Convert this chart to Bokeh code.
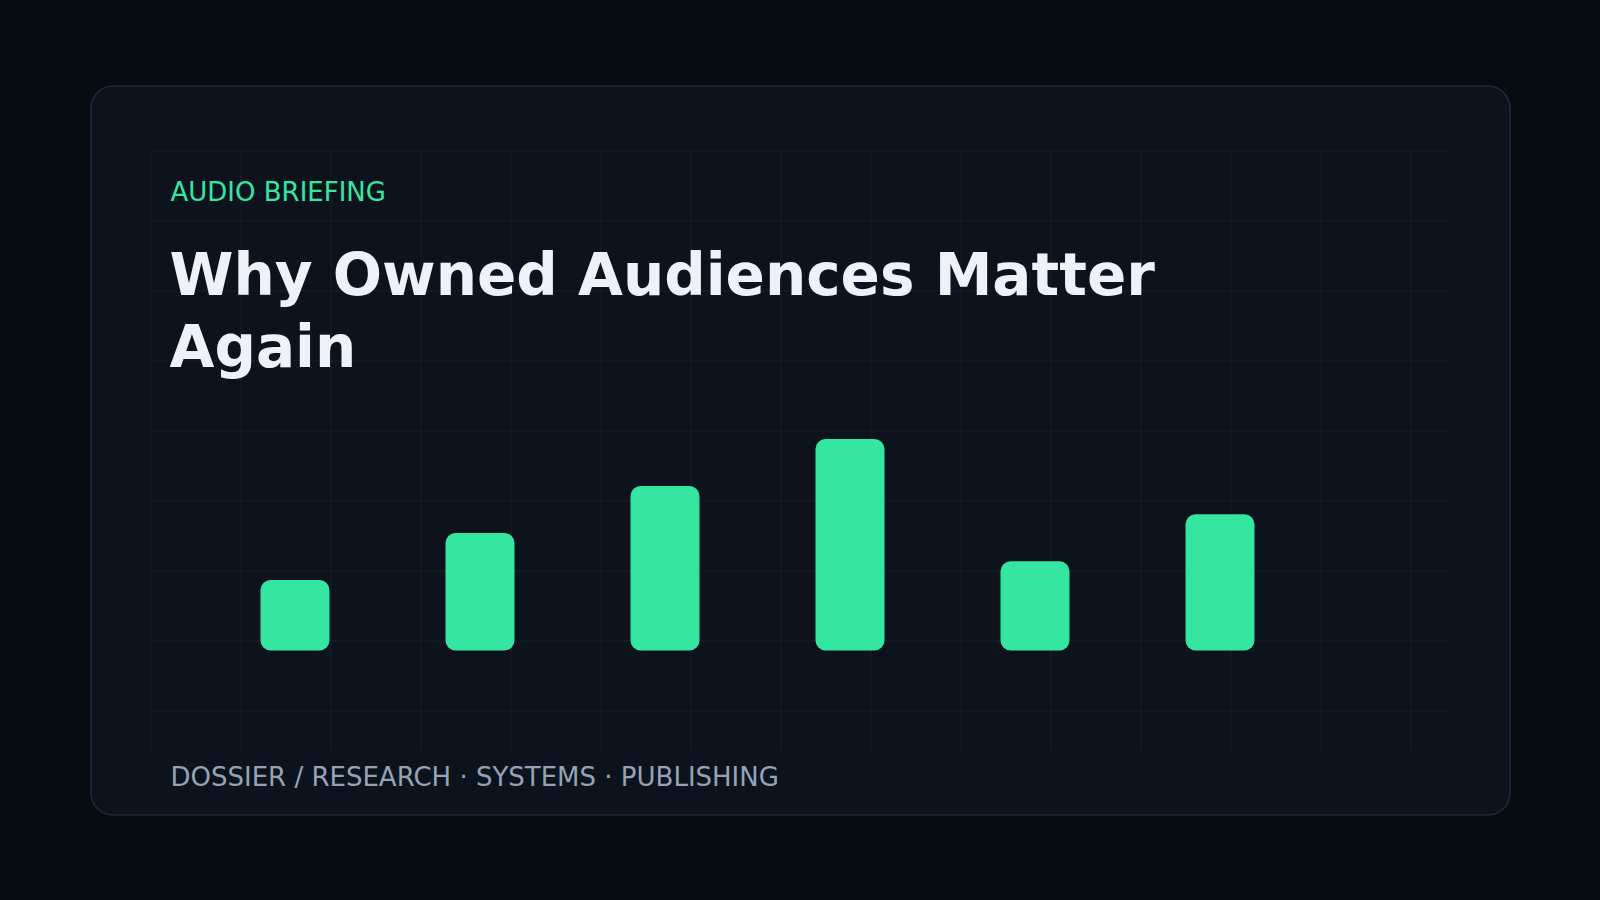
from bokeh.plotting import figure
from bokeh.models import Range1d, GlobalInlineStyleSheet
from bokeh.core.properties import value
from bokeh.embed import file_html
from bokeh.resources import INLINE

# ---- data ----
bar_index = [0, 1, 2, 3, 4, 5]
bar_values = [30, 50, 70, 90, 38, 58]

kicker = "AUDIO BRIEFING"
title_lines = ["Why Owned Audiences Matter", "Again"]
footer = "DOSSIER / RESEARCH · SYSTEMS · PUBLISHING"

# ---- style / layout (page pixel coordinates) ----
PAGE_BG = "#070b12"
CARD_BG = "#0d131c"
CARD_LINE = "#202a3b"
GRID = "#161f2c"
ACCENT = "#35e6a1"
TITLE_C = "#eef2f8"
FOOT_C = "#94a3b8"
FONT = "DejaVu Sans"

W, H = 1584, 884
OFF = 0

# bar geometry: index -> page x, value -> page y
BAR_X0, BAR_STEP, BAR_W = 294.5, 185.0, 69.0
BASE_Y, PX_PER_UNIT = 650.0, 2.35

p = figure(width=W, height=H, output_backend="svg", toolbar_location=None,
           x_range=Range1d(OFF, OFF + W), y_range=Range1d(OFF + H, OFF),
           min_border=0, background_fill_color=PAGE_BG, border_fill_color=PAGE_BG,
           outline_line_color=None)
p.axis.visible = False
p.grid.visible = False
p.stylesheets = [GlobalInlineStyleSheet(css=f"html, body {{ background: {PAGE_BG}; }}")]

# bar scales
p.extra_x_ranges = {"bx": Range1d((OFF - BAR_X0) / BAR_STEP, (OFF + W - BAR_X0) / BAR_STEP)}
p.extra_y_ranges = {"by": Range1d((BASE_Y - (OFF + H)) / PX_PER_UNIT, (BASE_Y - OFF) / PX_PER_UNIT)}

# card
p.quad(left=[90.5], right=[1509.5], top=[85.5], bottom=[814.5], border_radius=22,
       fill_color=CARD_BG, line_color=CARD_LINE, line_width=1.5)

# grid pattern
gx = [150 + 90 * k + 0.5 for k in range(15)]
gy = [150 + 70 * k + 0.5 for k in range(9)]
p.segment(x0=gx, y0=[150] * len(gx), x1=gx, y1=[750] * len(gx), line_color=GRID, line_width=1)
p.segment(x0=[150] * len(gy), y0=gy, x1=[1450] * len(gy), y1=gy, line_color=GRID, line_width=1)

# bars
p.vbar(x=bar_index, top=bar_values, bottom=0, width=BAR_W / BAR_STEP,
       x_range_name="bx", y_range_name="by", fill_color=ACCENT, line_color=None,
       border_radius=10)

# texts (y offsets compensate for the renderer's baseline placement)
p.text(x=[170], y=[191.5], text=[kicker], text_font=value(FONT), text_font_size="26px",
       text_color=ACCENT, text_baseline="alphabetic", text_align="left")
p.text(x=[169, 169], y=[274, 346], text=title_lines, text_font=value(FONT),
       text_font_size="58px", text_font_style="bold", text_color=TITLE_C,
       text_baseline="alphabetic", text_align="left")
p.text(x=[170], y=[776.5], text=[footer], text_font=value(FONT), text_font_size="26px",
       text_color=FOOT_C, text_baseline="alphabetic", text_align="left")

open("out.html", "w").write(file_html(p, INLINE))
